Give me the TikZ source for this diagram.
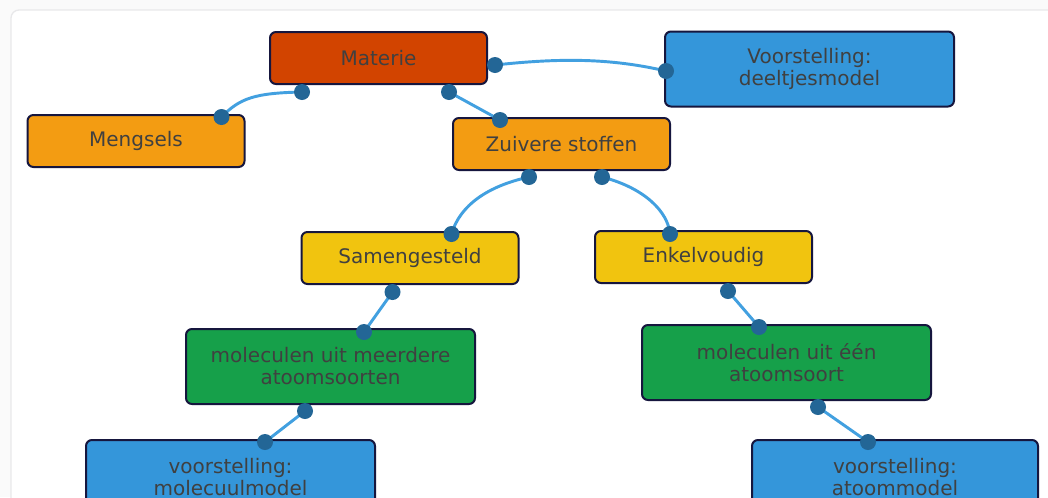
\documentclass[tikz,border=0pt]{standalone}
\usepackage{fontspec}
\setmainfont{DejaVu Sans}
\usetikzlibrary{calc}
\definecolor{bgc}{RGB}{250,250,250}
\definecolor{panelline}{RGB}{232,232,234}
\definecolor{boxline}{RGB}{22,22,62}
\definecolor{txt}{RGB}{64,64,64}
\definecolor{redorange}{RGB}{210,68,0}
\definecolor{orangec}{RGB}{243,156,18}
\definecolor{yellowc}{RGB}{241,196,15}
\definecolor{greenc}{RGB}{22,160,74}
\definecolor{bluec}{RGB}{52,150,218}
\definecolor{linkc}{RGB}{66,160,224}
\definecolor{dotc}{RGB}{35,102,150}
\tikzset{
  box/.style={draw=boxline, line width=1.5pt, rounded corners=4.5pt, text=txt,
    font=\fontsize{15pt}{16.5pt}\selectfont, align=center, inner sep=0pt,
    minimum width=162.75pt, minimum height=39pt},
  bigbox/.style={box, minimum width=216.75pt, minimum height=56.25pt},
  link/.style={draw=linkc, line width=2.2pt},
  dot/.style={fill=dotc},
}
\begin{document}
\begin{tikzpicture}[x=0.75pt,y=-0.75pt]
\useasboundingbox (0,0) rectangle (1048,497);
\fill[bgc] (0,0) rectangle (1048,497);
\clip (0,0) rectangle (1048,497);
\draw[panelline, fill=white, line width=1pt, rounded corners=6pt] (11,10) rectangle (1070,520);

\node[box, fill=redorange] (materie) at (378.5,58) {Materie};
\node[bigbox, fill=bluec] (deeltjes) at (809.5,69) {Voorstelling:\\deeltjesmodel};
\node[box, fill=orangec] (mengsels) at (136,141) {Mengsels};
\node[box, fill=orangec] (zuivere) at (561.5,144) {Zuivere stoffen};
\node[box, fill=yellowc] (samen) at (410,258) {Samengesteld};
\node[box, fill=yellowc] (enkel) at (703.5,257) {Enkelvoudig};
\node[bigbox, fill=greenc] (meer) at (330.5,366.5) {moleculen uit meerdere\\atoomsoorten};
\node[bigbox, fill=greenc] (een) at (786.5,362.5) {moleculen uit één\\atoomsoort};
\node[bigbox, fill=bluec] (molmod) at (230.5,477.5) {voorstelling:\\molecuulmodel};
\node[bigbox, fill=bluec, minimum width=214.5pt] (atmod) at (895,477.5) {voorstelling:\\atoommodel};

\coordinate (mA) at ([shift={(33,7)}]materie.south west);
\coordinate (mB) at ([shift={(180,7)}]materie.south west);
\coordinate (mC) at ([shift={(7,7)}]materie.east);
\coordinate (gA) at ([shift={(195,3)}]mengsels.north west);
\coordinate (zA) at ([shift={(48,3)}]zuivere.north west);
\coordinate (zB) at ([shift={(77,6)}]zuivere.south west);
\coordinate (zC) at ([shift={(150,6)}]zuivere.south west);
\coordinate (dA) at ([shift={(2,2)}]deeltjes.west);
\coordinate (sA) at ([shift={(151,3)}]samen.north west);
\coordinate (sB) at ([shift={(92,7)}]samen.south west);
\coordinate (eA) at ([shift={(76,4)}]enkel.north west);
\coordinate (eB) at ([shift={(134,7)}]enkel.south west);
\coordinate (rA) at ([shift={(179,4)}]meer.north west);
\coordinate (rB) at ([shift={(120,6)}]meer.south west);
\coordinate (oA) at ([shift={(118,3)}]een.north west);
\coordinate (oB) at ([shift={(177,6)}]een.south west);
\coordinate (uA) at ([shift={(180,3)}]molmod.north west);
\coordinate (tA) at ([shift={(117,3)}]atmod.north west);

\draw[link] (mA) .. controls (255,93) and (240,98) .. (gA);
\draw[link] (mB) -- (zA);
\draw[link] (mC) .. controls (560,58) and (610,58) .. (dA);
\draw[link] (zB) .. controls (488,186) and (460,205) .. (sA);
\draw[link] (zC) .. controls (645,188) and (668,212) .. (eA);
\draw[link] (sB) -- (rA);
\draw[link] (rB) -- (uA);
\draw[link] (eB) -- (oA);
\draw[link] (oB) -- (tA);

\foreach \p in {mA,mB,mC,gA,zA,zB,zC,dA,sA,sB,eA,eB,rA,rB,oA,oB,uA,tA}
  \fill[dot] (\p) circle (6pt);
\end{tikzpicture}
\end{document}
